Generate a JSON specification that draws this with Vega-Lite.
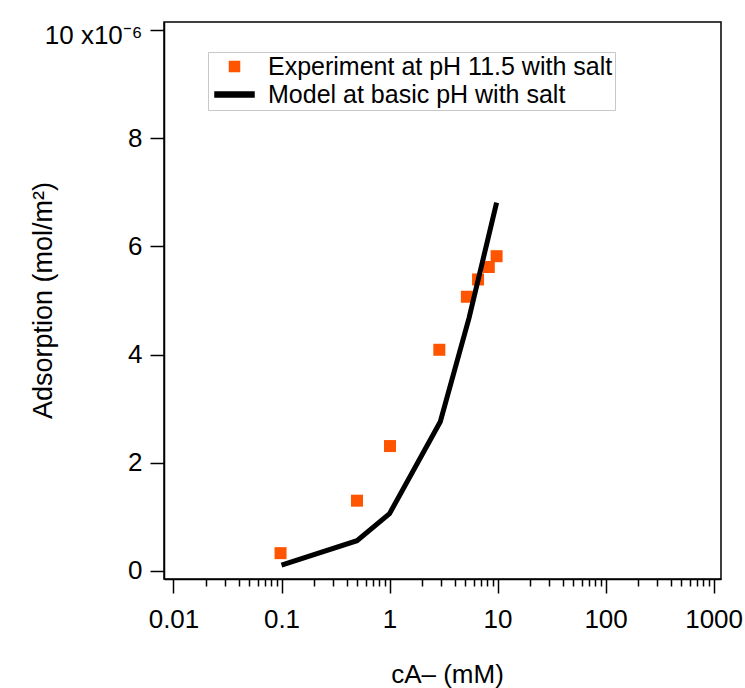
{
  "$schema": "https://vega.github.io/schema/vega-lite/v6.json",
  "width": 557,
  "height": 557,
  "autosize": {"type": "none"},
  "padding": {"left": 164, "top": 22, "right": 24, "bottom": 109},
  "config": {
    "font": "Liberation Sans",
    "view": {"stroke": "black", "strokeWidth": 1.5},
    "axis": {
      "grid": false,
      "domainColor": "black",
      "domainWidth": 1.5,
      "tickColor": "black",
      "tickWidth": 1.5,
      "labelColor": "#000000",
      "labelFont": "Liberation Sans",
      "labelFontSize": 26,
      "titleFont": "Liberation Sans",
      "titleFontSize": 26,
      "titleFontWeight": "normal",
      "titleColor": "#000000"
    }
  },
  "datasets": {
    "exp": [
      {"c": 0.098, "ads": 0.33, "series": "Experiment at pH 11.5 with salt"},
      {"c": 0.50, "ads": 1.30, "series": "Experiment at pH 11.5 with salt"},
      {"c": 1.01, "ads": 2.31, "series": "Experiment at pH 11.5 with salt"},
      {"c": 2.89, "ads": 4.09, "series": "Experiment at pH 11.5 with salt"},
      {"c": 5.2, "ads": 5.07, "series": "Experiment at pH 11.5 with salt"},
      {"c": 6.6, "ads": 5.39, "series": "Experiment at pH 11.5 with salt"},
      {"c": 8.3, "ads": 5.62, "series": "Experiment at pH 11.5 with salt"},
      {"c": 9.8, "ads": 5.82, "series": "Experiment at pH 11.5 with salt"}
    ],
    "model": [
      {"c": 0.1, "ads": 0.11, "series": "Model at basic pH with salt"},
      {"c": 0.5, "ads": 0.56, "series": "Model at basic pH with salt"},
      {"c": 1.0, "ads": 1.06, "series": "Model at basic pH with salt"},
      {"c": 2.95, "ads": 2.76, "series": "Model at basic pH with salt"},
      {"c": 5.45, "ads": 4.68, "series": "Model at basic pH with salt"},
      {"c": 9.8, "ads": 6.81, "series": "Model at basic pH with salt"}
    ]
  },
  "layer": [
    {
      "data": {"name": "exp"},
      "mark": {"type": "point", "filled": true, "opacity": 1, "size": 144},
      "encoding": {
        "x": {
          "field": "c",
          "type": "quantitative",
          "scale": {"type": "log", "domain": [0.00817, 1171], "nice": false},
          "axis": {
            "title": "cA– (mM)",
            "titleX": 283,
            "titleY": 103,
            "titleBaseline": "alphabetic",
            "values": [0.01, 0.02, 0.03, 0.04, 0.05, 0.06, 0.07, 0.08, 0.09, 0.1, 0.2, 0.3, 0.4, 0.5, 0.6, 0.7, 0.8, 0.9, 1, 2, 3, 4, 5, 6, 7, 8, 9, 10, 20, 30, 40, 50, 60, 70, 80, 90, 100, 200, 300, 400, 500, 600, 700, 800, 900, 1000],
            "format": "~g",
            "labelExpr": "indexof([0.01, 0.1, 1, 10, 100, 1000], datum.value) >= 0 ? datum.label : ''",
            "tickSize": {"condition": {"test": "indexof([0.01, 0.1, 1, 10, 100, 1000], datum.value) >= 0", "value": 14}, "value": 7},
            "labelPadding": 13,
            "labelOverlap": false,
            "labelFlush": false
          }
        },
        "y": {
          "field": "ads",
          "type": "quantitative",
          "scale": {"domain": [-0.148, 10.15], "nice": false, "zero": false},
          "axis": {
            "title": "Adsorption (mol/m²)",
            "titleFontSize": 27,
            "titleX": -121,
            "titleY": 278,
            "titleAngle": 270,
            "titleAlign": "center",
            "titleBaseline": "middle",
            "values": [0, 2, 4, 6, 8, 10],
            "labelExpr": "datum.value == 10 ? '10 x10⁻⁶' : datum.label",
            "labelOffset": {"condition": {"test": "datum.value == 10", "value": 5}, "value": 0},
            "tickSize": 14,
            "labelPadding": 8
          }
        },
        "color": {
          "field": "series",
          "type": "nominal",
          "scale": {"domain": ["Experiment at pH 11.5 with salt", "Model at basic pH with salt"], "range": ["#FF5500", "#000000"]},
          "legend": {
            "title": null,
            "orient": "none",
            "legendX": 44,
            "legendY": 30,
            "padding": 2,
            "strokeColor": "#c8c8c8",
            "fillColor": "white",
            "labelFontSize": 25,
            "labelFont": "Liberation Sans",
            "labelColor": "#000000",
            "labelLimit": 0,
            "symbolOffset": 12,
            "labelOffset": 21,
            "rowPadding": 2,
            "symbolOpacity": 1
          }
        },
        "shape": {
          "field": "series",
          "type": "nominal",
          "scale": {"domain": ["Experiment at pH 11.5 with salt", "Model at basic pH with salt"], "range": ["square", "M-3.9,-0.5H3.9V0.5H-3.9Z"]},
          "legend": {"title": null}
        }
      }
    },
    {
      "data": {"name": "model"},
      "mark": {"type": "line", "strokeWidth": 5, "strokeJoin": "miter"},
      "encoding": {
        "x": {"field": "c", "type": "quantitative"},
        "y": {"field": "ads", "type": "quantitative"},
        "color": {"field": "series", "type": "nominal", "legend": null}
      }
    }
  ]
}
